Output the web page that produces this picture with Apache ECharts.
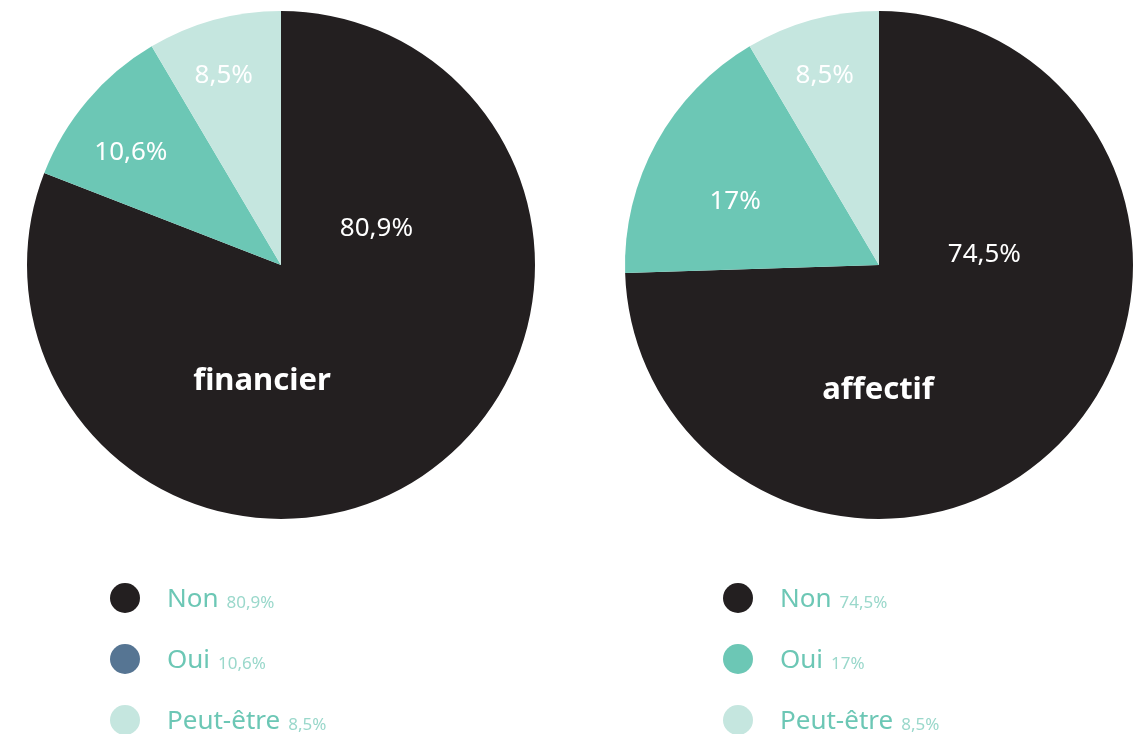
<!DOCTYPE html>
<html>
<head>
<meta charset="utf-8">
<script src="https://cdn.jsdelivr.net/npm/echarts@6/dist/echarts.min.js"></script>
<style>
  html, body { margin: 0; padding: 0; background: #fff; }
  #chart { width: 1135px; height: 734px; }
</style>
</head>
<body>
<div id="chart"></div>
<script>
var categories = ['Non', 'Oui', 'Peut-être'];
var financierValues = [80.9, 10.6, 8.5];
var affectifValues = [74.5, 17, 8.5];
var pieTitles = ['financier', 'affectif'];

var sliceColors = ['#231f20', '#6cc7b5', '#c5e6df'];
// la légende de gauche a une pastille bleue pour "Oui"
var leftLegendColors = ['#231f20', '#567593', '#c5e6df'];
// décalage des étiquettes par rapport à la position "inside"
var leftLabelOffsets = [[22, -144], [-51, -28], [-23, -64]];
var rightLabelOffsets = [[12, -101], [-30, -1], [-20, -64]];

var FONT = '"Noto Sans", "Open Sans", sans-serif';

function fmt(v) {
  return String(v).replace('.', ',') + '%';
}

function pieData(values, offsets) {
  return categories.map(function (name, i) {
    return {
      name: name,
      value: values[i],
      itemStyle: { color: sliceColors[i] },
      label: { offset: offsets[i] }
    };
  });
}

function legendOf(values, colors, left) {
  return {
    orient: 'vertical',
    left: left,
    top: 583,
    height: 300,
    padding: 0,
    icon: 'circle',
    itemWidth: 30,
    itemHeight: 30,
    itemGap: 31,
    selectedMode: false,
    data: categories.map(function (name, i) {
      return { name: name, itemStyle: { color: colors[i] } };
    }),
    formatter: function (name) {
      var i = categories.indexOf(name);
      return '{s|}{n|' + name + '}{v|' + fmt(values[i]) + '}';
    },
    textStyle: {
      fontFamily: FONT,
      rich: {
        s: { width: 22 },
        n: { fontSize: 26, color: '#6cc7b5', fontFamily: FONT, padding: [3, 0, 0, 0] },
        v: { fontSize: 17, color: '#9ad8cb', fontFamily: FONT, padding: [10, 0, 0, 8] }
      }
    }
  };
}

function pieSeries(name, values, offsets, cx) {
  return {
    name: name,
    type: 'pie',
    center: [cx, 265],
    radius: 254,
    startAngle: 90,
    clockwise: true,
    silent: true,
    label: {
      show: true,
      position: 'inside',
      color: '#fff',
      fontSize: 26,
      fontFamily: FONT,
      formatter: function (p) { return fmt(p.value); }
    },
    labelLine: { show: false },
    itemStyle: { borderWidth: 0 },
    data: pieData(values, offsets)
  };
}

var myChart = echarts.init(document.getElementById('chart'));
myChart.setOption({
  animation: false,
  title: [
    {
      text: pieTitles[0], left: 257, top: 361, textAlign: 'center',
      textStyle: { color: '#fff', fontSize: 31, fontWeight: 'bold', fontFamily: FONT }
    },
    {
      text: pieTitles[1], left: 873, top: 370, textAlign: 'center',
      textStyle: { color: '#fff', fontSize: 31, fontWeight: 'bold', fontFamily: FONT }
    }
  ],
  legend: [
    legendOf(financierValues, leftLegendColors, 110),
    legendOf(affectifValues, sliceColors, 723)
  ],
  series: [
    pieSeries('financier', financierValues, leftLabelOffsets, 281),
    pieSeries('affectif', affectifValues, rightLabelOffsets, 879)
  ]
});
</script>
</body>
</html>
